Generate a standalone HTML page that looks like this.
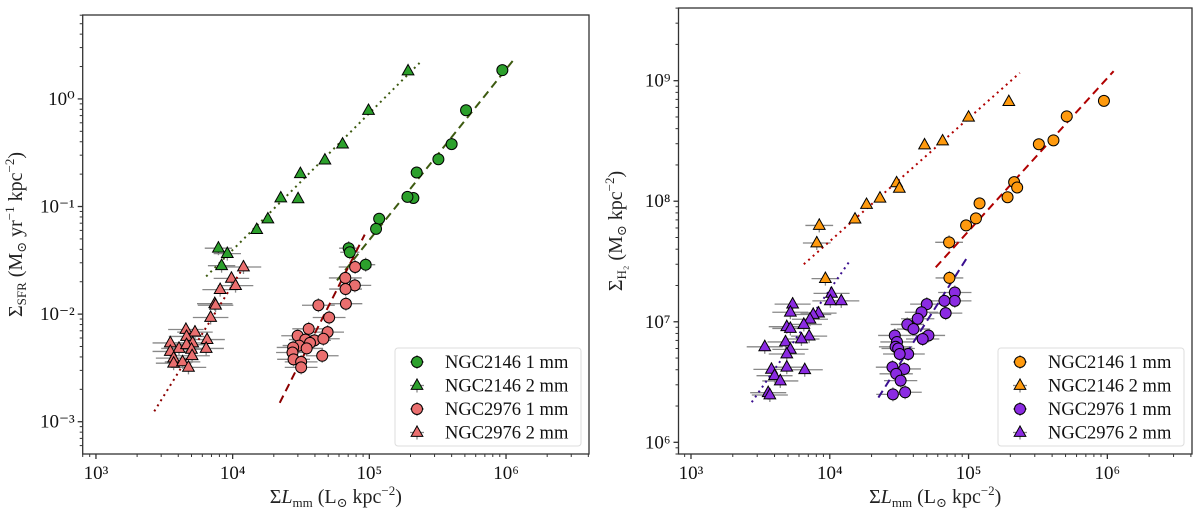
<!DOCTYPE html>
<html><head><meta charset="utf-8">
<style>
body{margin:0;background:#fff;}
svg{display:block;font-family:"Liberation Serif","DejaVu Serif",serif;}
</style></head>
<body>
<svg id="fig" width="1200" height="517" viewBox="0 0 1200 517"></svg>
<script>
// ---- Left panel data (Sigma_SFR vs Sigma L_mm) ----
const L_n2146_1_x=[9.4e5,5.1e5,4.0e5,3.2e5,2.22e5,2.1e5,1.9e5,1.18e5,1.12e5,7.06e4,7.2e4,9.4e4];
const L_n2146_1_y=[1.85,0.785,0.38,0.275,0.207,0.12,0.123,0.077,0.062,0.041,0.0376,0.0288];
const L_n2146_2_x=[1.92e5,9.86e4,6.37e4,4.73e4,3.13e4,2.25e4,3.01e4,1.81e4,1.5e4,7.87e3,9.14e3,8.3e3];
const L_n2146_2_y=[1.82,0.78,0.38,0.27,0.202,0.12,0.118,0.0766,0.061,0.041,0.0365,0.0282];
const L_n2976_1_x=[7.87e4,6.67e4,7.83e4,6.7e4,6.74e4,4.24e4,5.08e4,3.6e4,2.99e4,4.95e4,3.4e4,3.97e4,4.61e4,3.06e4,3.68e4,2.77e4,3.48e4,2.74e4,4.52e4,2.79e4,3.17e4,3.17e4];
const L_n2976_1_y=[0.0274,0.0217,0.0185,0.0171,0.0125,0.0121,0.0093,0.0073,0.0063,0.0068,0.0058,0.0057,0.0059,0.0051,0.0054,0.0049,0.0048,0.0044,0.0041,0.0038,0.0036,0.0032];
const L_n2976_2_x=[1.2e4,9.8e3,1.05e4,8.1e3,7.4e3,7.5e3,6.9e3,4.55e3,5.3e3,4.6e3,6.5e3,3.5e3,5.1e3,6.4e3,4.05e3,4.6e3,5.0e3,3.5e3,5.05e3,3.7e3,3.7e3,4.3e3,4.75e3];
const L_n2976_2_y=[0.0274,0.0215,0.0184,0.0169,0.0125,0.0121,0.0093,0.0072,0.0068,0.0062,0.0058,0.0054,0.0054,0.0048,0.0048,0.0052,0.0047,0.0045,0.0041,0.0039,0.0035,0.0036,0.0032];
const L_fit_2146_2_x=[6.4e3,2.33e5], L_fit_2146_2_y=[0.0224,2.16];
const L_fit_2146_1_x=[5.8e4,1.13e6], L_fit_2146_1_y=[0.0206,2.29];
const L_fit_2976_2_x=[2.67e3,1.21e4], L_fit_2976_2_y=[1.25e-3,0.0278];
const L_fit_2976_1_x=[2.21e4,9.25e4], L_fit_2976_1_y=[1.5e-3,0.0548];
// ---- Right panel data (Sigma_H2 vs Sigma L_mm) ----
const R_n2146_1_x=[9.45e5,5.1e5,4.09e5,3.21e5,2.13e5,2.24e5,1.91e5,1.2e5,1.13e5,9.6e4,7.24e4,7.28e4];
const R_n2146_1_y=[6.8e8,5.06e8,3.2e8,2.97e8,1.44e8,1.3e8,1.08e8,9.6e7,7.2e7,6.3e7,4.56e7,2.31e7];
const R_n2146_2_x=[1.95e5,1e5,6.5e4,4.82e4,3.03e4,3.17e4,2.3e4,1.84e4,1.52e4,8.4e3,8.06e3,9.3e3];
const R_n2146_2_y=[6.7e8,4.97e8,3.16e8,2.93e8,1.42e8,1.28e8,1.06e8,9.4e7,7.1e7,6.3e7,4.5e7,2.28e7];
const R_n2976_1_x=[7.96e4,7.96e4,6.7e4,6.84e4,5e4,4.58e4,4.3e4,5.14e4,3.62e4,4.01e4,4.67e4,2.94e4,3.05e4,2.98e4,3.11e4,3.67e4,3.19e4,2.83e4,3.44e4,3.01e4,3.24e4,3.49e4,2.85e4];
const R_n2976_1_y=[1.75e7,1.49e7,1.49e7,1.18e7,1.4e7,1.2e7,1.06e7,7.7e6,9.5e6,8.7e6,7.2e6,7.7e6,6.8e6,6.2e6,6.0e6,5.4e6,5.4e6,4.2e6,4.06e6,3.7e6,3.25e6,2.6e6,2.5e6];
const R_n2976_2_x=[1.03e4,1.21e4,1.01e4,8.3e3,7.6e3,7.2e3,5.4e3,5.2e3,6.5e3,7.1e3,6.25e3,4.9e3,5.2e3,4.8e3,5.2e3,4.9e3,6.6e3,4.9e3,3.4e3,3.8e3,4.0e3,4.4e3,3.6e3,3.7e3];
const R_n2976_2_y=[1.72e7,1.49e7,1.49e7,1.18e7,1.15e7,1.05e7,1.4e7,1.2e7,9.5e6,7.6e6,7.2e6,9.1e6,8.8e6,6.8e6,5.9e6,5.4e6,4.0e6,4.2e6,6.2e6,4.03e6,3.57e6,3.23e6,2.58e6,2.47e6];
const R_fit_2146_2_x=[6.5e3,2.34e5], R_fit_2146_2_y=[3.0e7,1.16e9];
const R_fit_2146_1_x=[5.8e4,1.11e6], R_fit_2146_1_y=[2.83e7,1.2e9];
const R_fit_2976_2_x=[2.74e3,1.41e4], R_fit_2976_2_y=[2.15e6,3.26e7];
const R_fit_2976_1_x=[2.24e4,9.75e4], R_fit_2976_1_y=[2.35e6,3.4e7];
const xTickExps=[3,4,5,6];
const L_yTickExps=[-3,-2,-1,0];
const R_yTickExps=[6,7,8,9];
const legendLabels=["NGC2146 1 mm","NGC2146 2 mm","NGC2976 1 mm","NGC2976 2 mm"];

const NS="http://www.w3.org/2000/svg";
const svg=document.getElementById('fig');
function mk(tag,attrs,parent){const e=document.createElementNS(NS,tag);for(const k in attrs)e.setAttribute(k,attrs[k]);(parent||svg).appendChild(e);return e;}
const sup={'0':'⁰','1':'¹','2':'²','3':'³','4':'⁴','5':'⁵','6':'⁶','7':'⁷','8':'⁸','9':'⁹','-':'⁻'};

function panel(p){
  const g=mk('g',{});
  
  
  const X=v=>p.x0+(Math.log10(v)-p.xl0)/(p.xl1-p.xl0)*(p.x1-p.x0);
  const Y=v=>p.y1-(Math.log10(v)-p.yl0)/(p.yl1-p.yl0)*(p.y1-p.y0);
  const ax=mk('g',{},g);
  
  
  for(let e=Math.floor(p.xl0);e<=Math.ceil(p.xl1);e++){
    for(let m=1;m<10;m++){const v=m*Math.pow(10,e);const lv=Math.log10(v);if(lv<p.xl0||lv>p.xl1)continue;
      const xx=X(v);mk('line',{x1:xx,x2:xx,y1:p.y1,y2:p.y1+(m==1?5:3),stroke:'#333','stroke-width':m==1?1.3:1},ax);}
  }
  xTickExps.forEach(e=>{const t=mk('text',{x:X(Math.pow(10,e)),y:p.y1+25,'text-anchor':'middle','font-size':19,fill:'#111'},ax);t.textContent='10'+String(e).split('').map(c=>sup[c]).join('');
    
    });
  const ay=mk('g',{},g);
  
  
  for(let e=Math.floor(p.yl0);e<=Math.ceil(p.yl1);e++){
    for(let m=1;m<10;m++){const v=m*Math.pow(10,e);const lv=Math.log10(v);if(lv<p.yl0||lv>p.yl1)continue;
      const yy=Y(v);mk('line',{x1:p.x0,x2:p.x0-(m==1?5:3),y1:yy,y2:yy,stroke:'#333','stroke-width':m==1?1.3:1},ay);}
  }
  p.yTicks.forEach(e=>{const t=mk('text',{x:p.x0-8,y:Y(Math.pow(10,e))+6,'text-anchor':'end','font-size':19,fill:'#111'},ay);t.textContent='10'+String(e).split('').map(c=>sup[c]).join('');
    
    });
  p.series.forEach(s=>{s.x.forEach((xv,i)=>{const yv=s.y[i];
    const w=s.err*(yv<s.errBelow?1:0);if(!w)return;
    mk('line',{x1:X(xv/Math.pow(10,w)),x2:X(xv*Math.pow(10,w)),y1:Y(yv),y2:Y(yv),stroke:'#888','stroke-width':1.3},g);
    mk('line',{x1:X(xv),x2:X(xv),y1:Y(yv)-7,y2:Y(yv)+7,stroke:'#888','stroke-width':1.3},g);});});
  p.fits.forEach(f=>{const l=mk('line',{x1:X(f.x[0]),y1:Y(f.y[0]),x2:X(f.x[1]),y2:Y(f.y[1]),stroke:f.c,'stroke-width':2,'stroke-dasharray':f.d},g);
    
    });
  p.series.forEach(s=>{s.x.forEach((xv,i)=>{drawMarker(g,X(xv),Y(s.y[i]),s.shape,s.c,s.key);});});
  const fr=mk('rect',{x:p.x0,y:p.y0,width:p.x1-p.x0,height:p.y1-p.y0,fill:'none',stroke:'#333','stroke-width':1.3},g);
  
  
  const xt=mk('text',{x:(p.x0+p.x1)/2,y:503,'text-anchor':'middle','font-size':20,fill:'#222'},g);
  xt.innerHTML='Σ<tspan font-style="italic">L</tspan><tspan font-size="13" dy="4">mm</tspan><tspan dy="-4"> (L</tspan><tspan font-size="13" dy="4">⊙</tspan><tspan dy="-4"> kpc</tspan><tspan font-size="13" dy="-8">−2</tspan><tspan dy="8">)</tspan>';
  
  
  const yt=mk('text',{x:0,y:0,'text-anchor':'middle','font-size':20,fill:'#222',transform:`translate(${p.ytx},${(p.y0+p.y1)/2}) rotate(-90)`},g);
  yt.innerHTML=p.ytitle;
  
  
  const lg=mk('g',{},g);
  
  
  mk('rect',{x:p.x1-194,y:p.y1-106,width:186,height:98,rx:3,fill:'#fff',stroke:'#ddd','stroke-width':1},lg);
  p.series.forEach((s,i)=>{const yy=p.y1-92+i*23.5;
    const le=mk('g',{},lg);
    
    
    mk('line',{x1:p.x1-172,x2:p.x1-172,y1:yy-7,y2:yy+7,stroke:'#888','stroke-width':1.3},le);
    mk('line',{x1:p.x1-179,x2:p.x1-165,y1:yy,y2:yy,stroke:'#888','stroke-width':1.3},le);
    drawMarker(le,p.x1-172,yy,s.shape,s.c,'legend-marker');
    const t=mk('text',{x:p.x1-144,y:yy+6,'font-size':18.5,fill:'#111'},le);t.textContent=legendLabels[i];});
}
function drawMarker(parent,x,y,shape,c,key){
  let m;
  if(shape==='o'){m=mk('circle',{cx:x,cy:y,r:5.5,fill:c,stroke:'#000','stroke-width':1},parent);}
  else{const r=6.5;m=mk('polygon',{points:`${x},${y-r} ${x+r*0.9},${y+r*0.6} ${x-r*0.9},${y+r*0.6}`,fill:c,stroke:'#000','stroke-width':1},parent);}
  
  
}
const green='#2ca02c', pink='#ea6f6f', orange='#ff9a0e', purple='#8b2be2';
panel({name:'sfr-panel',x0:82.7,x1:589,y0:15,y1:454,xl0:2.903,xl1:6.607,yl0:-3.30,yl1:0.78,yTicks:L_yTickExps,ytx:22,
  ytitle:'Σ<tspan font-size="13" dy="4">SFR</tspan><tspan dy="-4"> (M</tspan><tspan font-size="13" dy="4">⊙</tspan><tspan dy="-4"> yr</tspan><tspan font-size="13" dy="-8">−1</tspan><tspan dy="8"> kpc</tspan><tspan font-size="13" dy="-8">−2</tspan><tspan dy="8">)</tspan>',
  series:[{x:L_n2146_1_x,y:L_n2146_1_y,shape:'o',c:green,key:'ngc2146-1mm-point',err:0.07,errBelow:0.05},
          {x:L_n2146_2_x,y:L_n2146_2_y,shape:'^',c:green,key:'ngc2146-2mm-point',err:0.1,errBelow:0.05},
          {x:L_n2976_1_x,y:L_n2976_1_y,shape:'o',c:pink,key:'ngc2976-1mm-point',err:0.12,errBelow:1},
          {x:L_n2976_2_x,y:L_n2976_2_y,shape:'^',c:pink,key:'ngc2976-2mm-point',err:0.13,errBelow:1}],
  fits:[{x:L_fit_2146_2_x,y:L_fit_2146_2_y,c:'#3d5a10',d:'2 4'},{x:L_fit_2146_1_x,y:L_fit_2146_1_y,c:'#3d5a10',d:'8 5'},
        {x:L_fit_2976_2_x,y:L_fit_2976_2_y,c:'#8b0000',d:'2 4'},{x:L_fit_2976_1_x,y:L_fit_2976_1_y,c:'#8b0000',d:'8 5'}]});
panel({name:'h2-panel',x0:678.5,x1:1192,y0:8,y1:454,xl0:2.91,xl1:6.61,yl0:5.903,yl1:9.603,yTicks:R_yTickExps,ytx:622,
  ytitle:'Σ<tspan font-size="13" dy="4">H₂</tspan><tspan dy="-4"> (M</tspan><tspan font-size="13" dy="4">⊙</tspan><tspan dy="-4"> kpc</tspan><tspan font-size="13" dy="-8">−2</tspan><tspan dy="8">)</tspan>',
  series:[{x:R_n2146_1_x,y:R_n2146_1_y,shape:'o',c:orange,key:'ngc2146-1mm-point',err:0.1,errBelow:5e7},
          {x:R_n2146_2_x,y:R_n2146_2_y,shape:'^',c:orange,key:'ngc2146-2mm-point',err:0.1,errBelow:7e7},
          {x:R_n2976_1_x,y:R_n2976_1_y,shape:'o',c:purple,key:'ngc2976-1mm-point',err:0.12,errBelow:1e9},
          {x:R_n2976_2_x,y:R_n2976_2_y,shape:'^',c:purple,key:'ngc2976-2mm-point',err:0.13,errBelow:1e9}],
  fits:[{x:R_fit_2146_2_x,y:R_fit_2146_2_y,c:'#b00000',d:'2 4'},{x:R_fit_2146_1_x,y:R_fit_2146_1_y,c:'#b00000',d:'8 5'},
        {x:R_fit_2976_2_x,y:R_fit_2976_2_y,c:'#3a0f8f',d:'2 4'},{x:R_fit_2976_1_x,y:R_fit_2976_1_y,c:'#3a0f8f',d:'8 5'}]});
</script>
</body></html>
